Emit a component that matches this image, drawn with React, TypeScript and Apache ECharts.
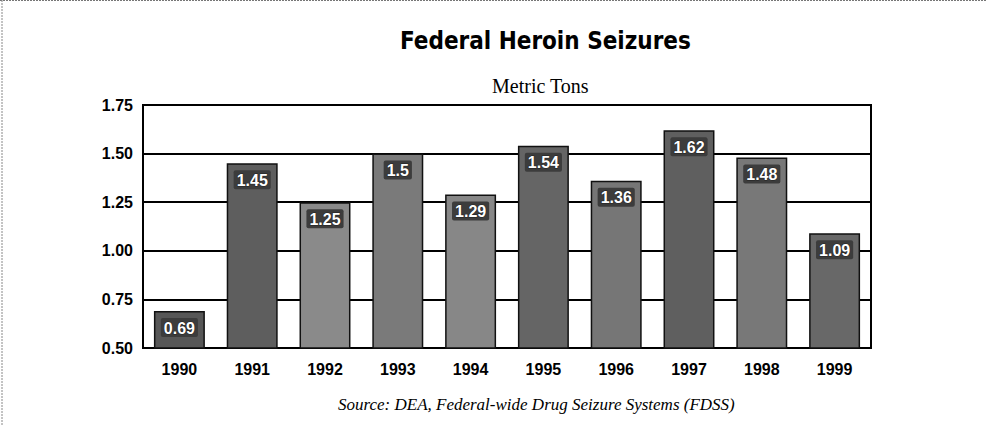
import React, { useEffect, useRef } from "react";
import * as echarts from "echarts";

const years = ["1990", "1991", "1992", "1993", "1994", "1995", "1996", "1997", "1998", "1999"];
const seizures = [0.69, 1.45, 1.25, 1.5, 1.29, 1.54, 1.36, 1.62, 1.48, 1.09];
const barShades = ["#575757", "#5e5e5e", "#8a8a8a", "#7a7a7a", "#878787", "#656565", "#767676", "#5f5f5f", "#787878", "#686868"];
const yMin = 0.5;
const yMax = 1.75;
const yStep = 0.25;

const titleText = "Federal Heroin Seizures";
const subtitleText = "Metric Tons";
const sourceText = "Source: DEA, Federal-wide Drug Seizure Systems (FDSS)";

export default function App() {
  const ref = useRef<HTMLDivElement>(null);
  useEffect(() => {
    if (!ref.current) return;
    const chart = echarts.init(ref.current, null, { renderer: "svg" });
    chart.setOption({
      animation: false,
      backgroundColor: "#ffffff",
      grid: {
        left: 143,
        right: 116,
        top: 105,
        bottom: 78,
        show: true,
        borderColor: "#000",
        borderWidth: 2,
        backgroundColor: "transparent",
      },
      xAxis: {
        type: "category",
        data: years,
        axisLine: { show: true, lineStyle: { color: "#000", width: 2 } },
        axisTick: { show: false },
        axisLabel: {
          color: "#000",
          fontFamily: "Liberation Sans, Arial, sans-serif",
          fontWeight: "bold",
          fontSize: 16,
          margin: 13,
        },
      },
      yAxis: {
        type: "value",
        min: yMin,
        max: yMax,
        interval: yStep,
        axisLine: { show: true, lineStyle: { color: "#000", width: 2 } },
        axisTick: { show: false },
        splitLine: { show: true, lineStyle: { color: "#000", width: 2 } },
        axisLabel: {
          color: "#000",
          fontFamily: "Liberation Sans, Arial, sans-serif",
          fontWeight: "bold",
          fontSize: 16,
          margin: 10,
          formatter: (v: number) => v.toFixed(2),
        },
      },
      series: [
        {
          type: "bar",
          barWidth: "70%",
          data: seizures.map((v, i) => ({
            value: v,
            itemStyle: { color: barShades[i] },
          })),
          itemStyle: { borderColor: "#111", borderWidth: 1.5 },
          label: {
            show: true,
            position: "insideTop",
            distance: 7,
            formatter: (p: any) => String(p.value),
            color: "#fff",
            fontFamily: "Liberation Sans, Arial, sans-serif",
            fontWeight: "bold",
            fontSize: 16,
            textBorderColor: "#222",
            textBorderWidth: 1,
            backgroundColor: "#3c3c3c",
            padding: [2, 3, 1, 3],
            borderRadius: 2,
          },
        },
      ],
      graphic: [
        {
          type: "line",
          shape: { x1: 0, y1: 0.5, x2: 987, y2: 0.5 },
          style: { stroke: "#777", lineWidth: 1, lineDash: [2, 1] },
        },
        {
          type: "line",
          shape: { x1: 2, y1: 0, x2: 2, y2: 426 },
          style: { stroke: "#888", lineWidth: 1, lineDash: [2, 1] },
        },
        {
          type: "text",
          left: 400,
          top: 29,
          style: {
            text: titleText,
            font: "bold 24px 'DejaVu Sans Condensed', 'Liberation Sans Narrow', 'Liberation Sans', Arial, sans-serif",
            fill: "#000",
          },
        },
        {
          type: "text",
          left: 492,
          top: 76,
          style: {
            text: subtitleText,
            font: "20px 'Liberation Serif', 'Times New Roman', serif",
            fill: "#000",
          },
        },
        {
          type: "text",
          left: 338,
          top: 396,
          style: {
            text: sourceText,
            font: "italic 17px 'Liberation Serif', 'Times New Roman', serif",
            fill: "#000",
          },
        },
      ],
    });
    return () => chart.dispose();
  }, []);
  return (
    <div
      ref={ref}
      style={{ position: "fixed", left: 0, top: 0, width: 987, height: 426 }}
    />
  );
}
